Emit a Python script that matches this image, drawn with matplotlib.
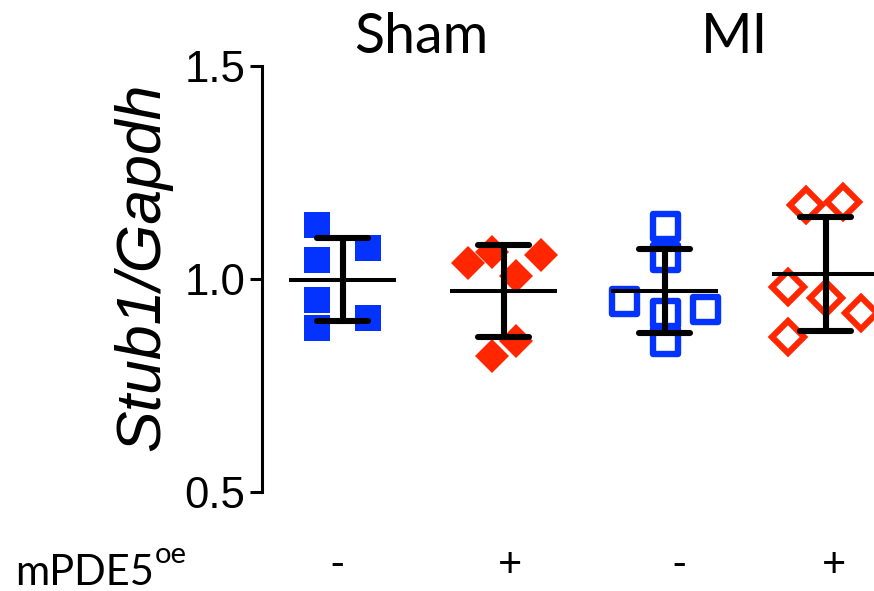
import matplotlib
matplotlib.use('Agg')
import matplotlib.pyplot as plt
import numpy as np
from matplotlib.markers import MarkerStyle
from matplotlib.ticker import FormatStrFormatter

# ---- data ----
group_x = [1, 2, 3, 4]
sham_ctrl = [1.125, 1.045, 0.951, 0.885, 1.073, 0.908]
sham_oe = [1.038, 1.062, 1.056, 1.006, 0.853, 0.819]
mi_ctrl = [1.124, 1.050, 0.948, 0.919, 0.853, 0.929]
mi_oe = [1.173, 1.180, 0.981, 0.954, 0.919, 0.863]

# horizontal scatter of the points (in group-spacing units)
sham_ctrl_dx = [-0.16, -0.16, -0.16, -0.16, 0.16, 0.16]
sham_oe_dx = [-0.22, -0.07, 0.23, 0.08, 0.08, -0.07]
mi_ctrl_dx = [0.0, 0.0, -0.25, 0.0, 0.0, 0.25]
mi_oe_dx = [-0.12, 0.11, -0.23, 0.0, 0.22, -0.23]

condition_labels = ['Sham', 'MI']
sign_labels = ['-', '+', '-', '+']
yticks = [0.5, 1.0, 1.5]

BLUE = '#0433FF'
RED = '#FF2600'

W, H, DPI = 874, 591, 100
fig = plt.figure(figsize=(W / DPI, H / DPI), dpi=DPI)

ax_left, ax_right = 262, 874
ax_top, ax_bot = 65.5, 492
ax = fig.add_axes([ax_left / W, (H - ax_bot) / H, (ax_right - ax_left) / W, (ax_bot - ax_top) / H])
spacing_px = 161.0
ax.set_xlim(0.5, 0.5 + (ax_right - ax_left) / spacing_px)
ax.set_ylim(0.5, 1.5)

series = [
    (sham_ctrl, sham_ctrl_dx, dict(marker=MarkerStyle('s'), markersize=18.7, markerfacecolor=BLUE, markeredgewidth=0)),
    (sham_oe, sham_oe_dx, dict(marker=MarkerStyle('D'), markersize=17, markerfacecolor=RED, markeredgewidth=0)),
    (mi_ctrl, mi_ctrl_dx, dict(marker=MarkerStyle('s', joinstyle='round'), markersize=18, markerfacecolor='none',
                               markeredgecolor=BLUE, markeredgewidth=4.6)),
    (mi_oe, mi_oe_dx, dict(marker=MarkerStyle('D'), markersize=16.8, markerfacecolor='none',
                           markeredgecolor=RED, markeredgewidth=4.4)),
]

for gx, (vals, dx, style) in zip(group_x, series):
    xs = np.array(dx) + gx
    ax.plot(xs, vals, linestyle='none', clip_on=False, zorder=2, **style)
    m = np.mean(vals)
    sd = np.std(vals, ddof=1)
    # mean line
    ax.plot([gx - 0.335, gx + 0.335], [m, m], color='black', lw=2.9, solid_capstyle='butt', zorder=3)
    # error bar
    ax.plot([gx, gx], [m - sd, m + sd], color='black', lw=4.4, solid_capstyle='butt', zorder=3)
    for yv in (m - sd, m + sd):
        ax.plot([gx - 0.16, gx + 0.16], [yv, yv], color='black', lw=4.4, solid_capstyle='round', zorder=3)

for s in ['top', 'right', 'bottom']:
    ax.spines[s].set_visible(False)
ax.spines['left'].set_linewidth(2.2)
ax.set_xticks([])
ax.set_yticks(yticks)
ax.yaxis.set_major_formatter(FormatStrFormatter('%.1f'))
ax.tick_params(axis='y', direction='out', length=8.6, width=2.2, pad=3.6, labelsize=31.5)
for t in ax.get_yticklabels():
    t.set_fontfamily('Liberation Sans')

fig.text(143 / W, 1 - 267 / H, 'Stub1/Gapdh', rotation=90, ha='center', va='center',
         fontsize=45, fontstyle='italic', family='Liberation Sans')

# condition headers
head_font = dict(family='Lato', fontsize=40)
fig.text(421 / W, 1 - 53 / H, condition_labels[0], ha='center', va='baseline', **head_font)
fig.text(735 / W, 1 - 53 / H, condition_labels[1], ha='center', va='baseline', **head_font)

# mPDE5oe row
row_font = dict(family='Lato', fontsize=30)
t1 = fig.text(15 / W, 1 - 585 / H, 'mPDE5', ha='left', va='baseline', **row_font)
fig.canvas.draw()
bb = t1.get_window_extent()
fig.text(bb.x1 / W + 1 / W, 1 - 563 / H, 'oe', ha='left', va='baseline', family='Lato', fontsize=21)

sign_px = [337, 510, 679, 834]
for px, lab in zip(sign_px, sign_labels):
    fig.text(px / W, 1 - 565 / H, lab, ha='center', va='center', **row_font)

fig.savefig('out.png', dpi=DPI)
